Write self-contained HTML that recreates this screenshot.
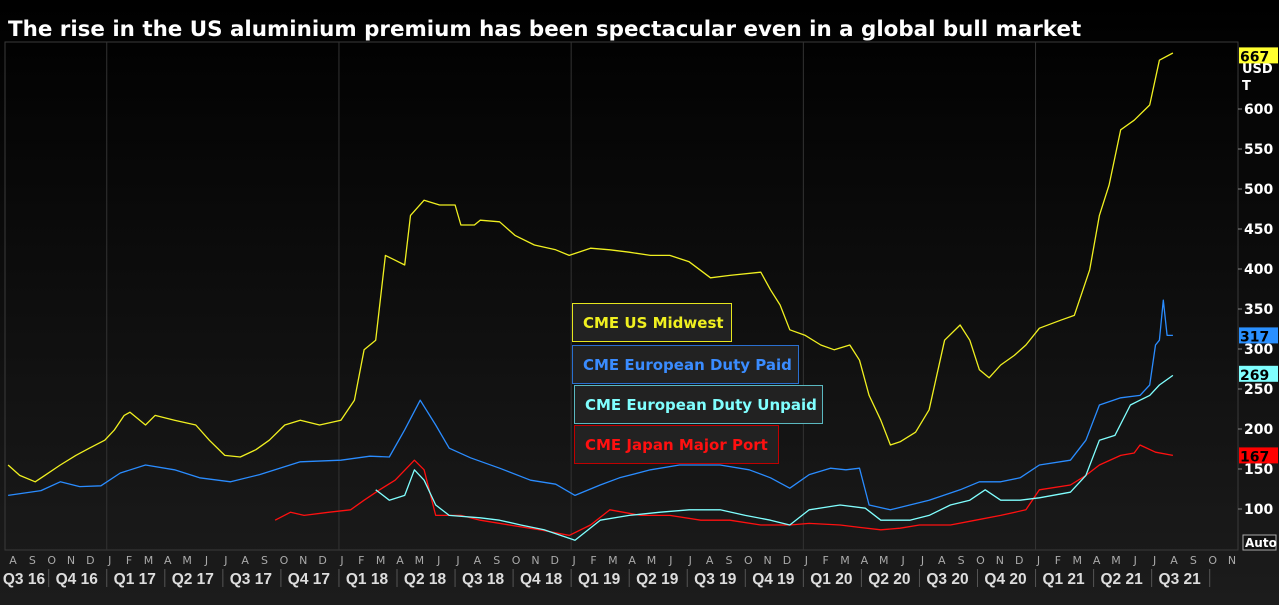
<!DOCTYPE html>
<html><head><meta charset="utf-8"><style>
body{margin:0;width:1279px;height:605px;overflow:hidden;background:#000;font-family:"DejaVu Sans","Liberation Sans",sans-serif}
#c{position:absolute;left:0;top:0}
.lg{position:absolute;background:#222;font-weight:bold;font-size:15px;box-sizing:border-box;padding-left:10px;display:flex;align-items:center}
</style></head><body>
<svg id="c" width="1279" height="605">
<defs><linearGradient id="bg" x1="0" y1="0" x2="0" y2="1"><stop offset="0" stop-color="#000"/><stop offset="1" stop-color="#1c1c1c"/></linearGradient></defs>
<rect x="0" y="0" width="1279" height="605" fill="url(#bg)"/>
<text x="8" y="36" fill="#fff" font-size="21.4" font-weight="bold" font-family="DejaVu Sans, sans-serif">The rise in the US aluminium premium has been spectacular even in a global bull market</text>
<rect x="5" y="42" width="1233" height="508" fill="none" stroke="#3a3a3a"/>
<g id="grid"></g><g id="axes"></g><g id="series"></g><g id="tags"></g>
</svg>
<div class="lg" style="left:572px;top:303px;width:160px;height:39px;border:1px solid #e6e61e;color:#f0f020">CME US Midwest</div>
<div class="lg" style="left:572px;top:345px;width:227px;height:39px;border:1px solid #2a6fd0;color:#3a8cff">CME European Duty Paid</div>
<div class="lg" style="left:574px;top:385px;width:249px;height:39px;border:1px solid #5ab8c0;color:#80ffff">CME European Duty Unpaid</div>
<div class="lg" style="left:574px;top:425px;width:205px;height:39px;border:1px solid #c00000;color:#ff1010">CME Japan Major Port</div>
<script>
// months since Aug 2016
const usT=[-0.1,0.5,1.3,1.8,2.6,3.4,4.1,4.9,5.4,5.9,6.2,7.0,7.5,8.5,9.6,10.3,11.1,11.9,12.7,13.4,14.2,15.0,16.0,17.1,17.8,18.3,18.9,19.4,19.9,20.4,20.7,21.4,22.2,23.0,23.3,24.0,24.3,25.3,26.1,27.1,28.2,28.9,30.0,31.0,32.0,33.1,34.1,35.1,36.2,37.2,38.8,39.3,39.8,40.3,41.1,41.9,42.6,43.4,43.9,44.4,45.0,45.5,46.0,46.8,47.5,48.3,49.1,49.6,50.1,50.6,51.2,51.9,52.5,53.2,54.3,55.0,55.8,56.3,56.8,57.4,58.1,58.9,59.4,60.1];
const usV=[155,142,134,142,155,167,176,186,199,217,221,205,217,211,205,186,167,165,174,186,205,211,205,211,236,299,311,417,411,405,467,486,480,480,455,455,461,459,442,430,424,417,426,424,421,417,417,409,389,392,396,374,355,324,317,305,299,305,286,242,211,180,184,196,224,311,330,311,274,264,280,292,305,326,336,342,399,467,505,574,586,605,661,670];
const paidT=[-0.1,1.6,2.6,3.6,4.7,5.7,7.0,8.5,9.8,11.4,12.9,15.0,17.1,18.6,19.6,20.4,21.2,22.0,22.7,23.8,25.3,26.9,28.2,29.2,30.5,31.5,33.1,34.6,36.7,38.2,39.3,40.3,41.3,42.4,43.2,43.9,44.4,45.5,46.5,47.5,49.1,50.1,51.2,52.2,53.2,54.8,55.6,56.3,57.4,58.4,58.9,59.2,59.4,59.6,59.8,60.1];
const paidV=[117,123,134,128,129,145,155,149,139,134,143,159,161,166,165,199,236,205,176,164,151,136,131,117,130,139,149,155,155,149,139,126,143,151,149,151,105,99,105,111,124,134,134,139,155,161,186,230,239,242,255,305,311,361,317,317];
const unpaidT=[18.9,19.6,20.4,20.9,21.4,22.0,22.7,24.3,25.3,26.4,27.6,29.2,30.5,32.0,33.6,35.1,36.7,38.0,39.3,40.3,41.3,42.9,44.2,45.0,46.5,47.5,48.6,49.6,50.4,51.2,52.2,53.2,54.8,55.6,56.3,57.1,57.9,58.4,58.9,59.4,60.1];
const unpaidV=[124,111,117,149,136,105,92,89,86,80,74,61,86,92,96,99,99,92,86,80,99,105,101,86,86,92,105,111,124,111,111,114,121,142,186,192,230,236,242,255,267];
const japanT=[13.7,14.5,15.2,16.5,17.6,18.3,19.1,19.9,20.9,21.4,22.0,23.3,24.3,25.8,27.4,28.9,30.0,31.0,32.6,34.1,35.7,37.2,38.8,40.3,41.3,42.9,43.9,45.0,46.0,47.0,48.6,49.9,51.2,52.5,53.2,54.8,55.6,56.3,57.4,58.1,58.4,59.2,60.1];
const japanV=[86,96,92,96,99,111,124,136,161,149,92,92,86,80,74,67,80,99,92,92,86,86,80,80,82,80,77,74,76,80,80,86,92,99,124,130,142,155,167,170,180,171,167];
const yTicks=[100,150,200,250,300,350,400,450,500,550,600];
const monthLetters=["A","S","O","N","D","J","F","M","A","M","J","J"];
const quarterLabels=["Q3 16","Q4 16","Q1 17","Q2 17","Q3 17","Q4 17","Q1 18","Q2 18","Q3 18","Q4 18","Q1 19","Q2 19","Q3 19","Q4 19","Q1 20","Q2 20","Q3 20","Q4 20","Q1 21","Q2 21","Q3 21"];
const lastTags=[{v:667,c:"#ffff30"},{v:317,c:"#2a90ff"},{v:269,c:"#80ffff"},{v:167,c:"#ff0000"}];

const NS="http://www.w3.org/2000/svg";
const X=t=>10+t*19.35;
const XA=t=>13+t*19.35;
const Y=v=>509-(v-100)*0.8;
function mk(tag,parent,attrs){const e=document.createElementNS(NS,tag);for(const k in attrs)e.setAttribute(k,attrs[k]);document.getElementById(parent).appendChild(e);return e;}
for(let y=0;y<5;y++){const x=XA(5+12*y)-3;
 const l=mk('line','grid',{x1:x,x2:x,y1:42,y2:550,stroke:'#333','stroke-width':1});
 
 }
yTicks.forEach(v=>{
 const l=mk('line','axes',{x1:1238,x2:1242,y1:Y(v),y2:Y(v),stroke:'#888'});
 
 
 const t=mk('text','axes',{x:1244,y:Y(v)+5,fill:'#fff','font-size':14,'font-weight':'bold'});t.textContent=v;
 
 });
const u=mk('text','axes',{x:1242,y:73,fill:'#fff','font-size':13,'font-weight':'bold'});u.textContent='USD';


const u2=mk('text','axes',{x:1242,y:90,fill:'#fff','font-size':13,'font-weight':'bold'});u2.textContent='T';


const ab=mk('rect','axes',{x:1243,y:535,width:33,height:15,fill:'#111',stroke:'#aaa'});


const at=mk('text','axes',{x:1245,y:547,fill:'#fff','font-size':12,'font-weight':'bold'});at.textContent='Auto';


for(let m=0;m<64;m++){
 const t=mk('text','axes',{x:XA(m),y:564,fill:'#aaa','font-size':11,'text-anchor':'middle'});t.textContent=monthLetters[m%12];
 
 }
quarterLabels.forEach((q,i)=>{
 const s=i===0?-0.45:3*i-1, e=3*i+2;
 const t=mk('text','axes',{x:(XA(s)+XA(e))/2-4,y:584,fill:'#ddd','font-size':15.5,'font-weight':'bold','text-anchor':'middle','font-family':'Liberation Sans, sans-serif'});t.textContent=q;
 
 
 const l=mk('line','axes',{x1:XA(e)-3,x2:XA(e)-3,y1:569,y2:587,stroke:'#555'});
 
 });
function line(T,V,col,name){const n=Math.min(T.length,V.length);let d='';
 for(let i=0;i<n;i++)d+=(i?'L':'M')+X(T[i]).toFixed(1)+' '+Y(V[i]).toFixed(1);
 const p=mk('path','series',{d:d,fill:'none',stroke:col,'stroke-width':1.3,'stroke-linejoin':'round'});
 
 }
line(japanT,japanV,'#ff1010','line-japan-major-port');
line(unpaidT,unpaidV,'#80ffff','line-european-duty-unpaid');
line(paidT,paidV,'#2a8cff','line-european-duty-paid');
line(usT,usV,'#f0f020','line-us-midwest');
lastTags.forEach(g=>{
 const r=mk('rect','tags',{x:1239,y:Y(g.v)-8,width:39,height:16,fill:g.c});
 
 
 const t=mk('text','tags',{x:1240,y:Y(g.v)+6,fill:'#000','font-size':14,'font-weight':'bold'});t.textContent=g.v;
 
 });
</script>
</body></html>
